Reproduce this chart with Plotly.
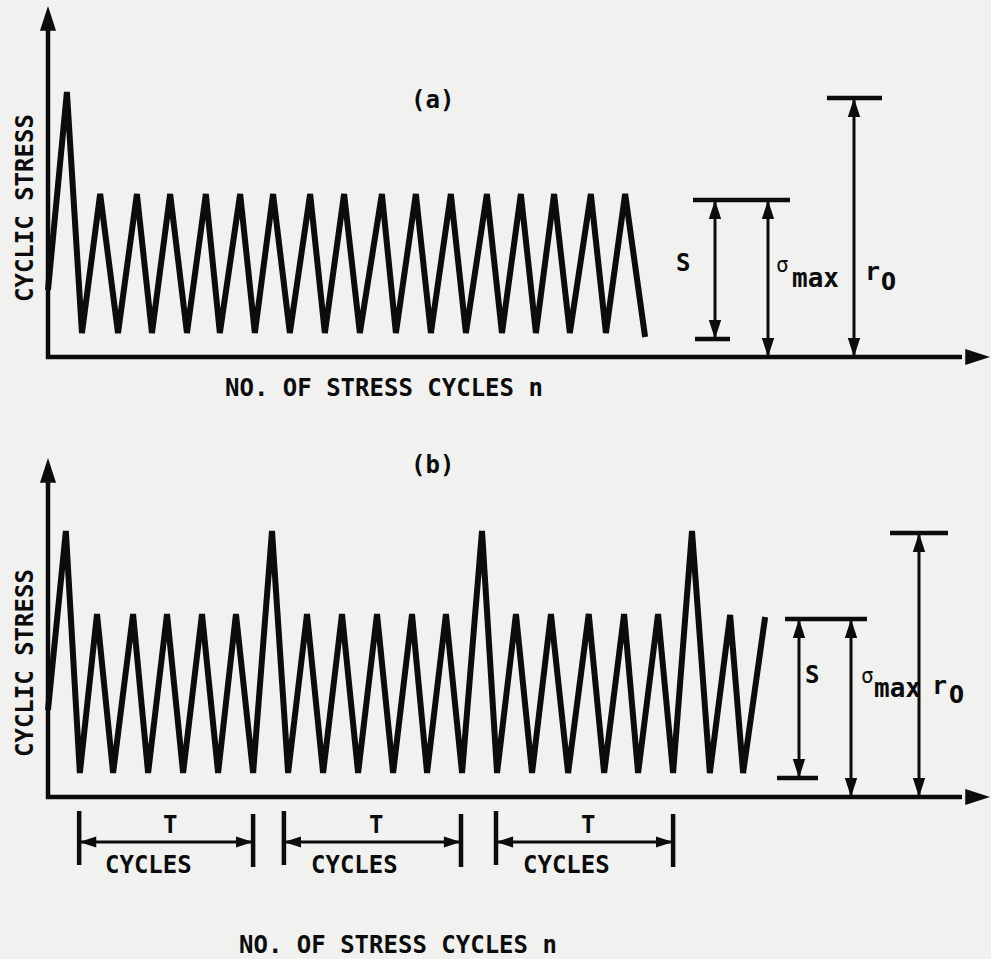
import plotly.graph_objects as go

# ---------------- data ----------------
# Panel (a): constant-amplitude loading after one overload (x in cycles, y in stress units)
cycles_a = [0.00, 0.54, 0.97, 1.49, 2.00, 2.54, 2.97, 3.49, 3.97, 4.51, 4.91, 5.49, 5.91,
            6.43, 6.91, 7.49, 7.91, 8.46, 8.91, 9.54, 9.94, 10.51, 10.94, 11.51, 11.94,
            12.54, 12.97, 13.51, 13.94, 14.46, 14.91, 15.51, 15.94, 16.49, 17.06]
stress_a = [67, 265, 24, 163, 24, 163, 24, 163, 24, 163, 24, 163, 24,
            163, 24, 163, 24, 163, 24, 163, 24, 163, 24, 163, 24,
            163, 24, 163, 24, 163, 24, 163, 24, 163, 20]

# Panel (b): periodic overloads every T cycles
cycles_b = [0.00, 0.51, 0.91, 1.40, 1.86, 2.43, 2.86, 3.40, 3.86, 4.40, 4.86, 5.37, 5.86,
            6.40, 6.86, 7.40, 7.86, 8.40, 8.86, 9.40, 9.86, 10.40, 10.83, 11.37, 11.83,
            12.40, 12.83, 13.37, 13.83, 14.37, 14.86, 15.45, 15.89, 16.46, 16.86, 17.43,
            17.86, 18.40, 18.91, 19.49, 19.86, 20.49]
stress_b = [87, 266, 24, 183, 24, 183, 24, 183, 24, 183, 24, 183, 24,
            266, 24, 183, 24, 183, 24, 183, 24, 183, 24, 183, 24,
            266, 24, 183, 24, 183, 24, 183, 24, 183, 24, 183,
            24, 266, 24, 182, 24, 180]

# Dimension values (stress units)
s_min_a, s_max_a, r0_a = 18, 157, 259
s_min_b, s_max_b, r0_b = 19, 178, 264

# T-cycle block boundaries in panel (b) (cycles)
t_start = [0.89, 6.74, 12.80]
t_end = [5.86, 11.80, 17.86]

y_title = "CYCLIC STRESS"
x_title = "NO. OF STRESS CYCLES n"

# ---------------- styling / layout ----------------
W, H = 991, 959
INK = "#0c0c0c"
BG = "#f1f1ef"
FONT = "DejaVu Sans Mono"
PX = 35.0                      # pixels per cycle
X0 = 48.0                      # pixel of the stress axis
xrange = [-X0 / PX, (W - X0) / PX]
split = 420                    # pixel row separating the panels
axis_a, axis_b = 357, 797      # pixel rows of the two n-axes

fig = go.Figure()


def line(x, y, ax, w):
    xa, ya = ax
    fig.add_trace(go.Scatter(x=x, y=y, mode="lines", xaxis=xa, yaxis=ya,
                             line=dict(color=INK, width=w), hoverinfo="skip",
                             showlegend=False))


def heads(x, y, ang, ax, size):
    xa, ya = ax
    fig.add_trace(go.Scatter(x=x, y=y, mode="markers", xaxis=xa, yaxis=ya,
                             marker=dict(symbol="arrow", angle=ang, size=size, color=INK,
                                         line=dict(width=0)),
                             hoverinfo="skip", showlegend=False))


def text(s, x, y, ax, size=24, angle=0, weight="bold", family=FONT):
    xa, ya = ax
    fig.add_annotation(text=s, x=x, y=y, xref=xa, yref=ya, showarrow=False,
                       textangle=angle,
                       font=dict(family=family, size=size, color=INK, weight=weight))


A = ("x", "y")
B = ("x2", "y2")
xend = (W - 1 - X0) / PX

# ----- Panel (a) -----
top_a = axis_a - 6
line([0, 0, xend - 0.8], [top_a - 20, 0, 0], A, 4.5)
heads([0, xend], [top_a, 0], [0, 90], A, 26)
line(cycles_a, stress_a, A, 6)

# S, sigma_max, r0 dimension lines
xs, xsm, xr = (715 - X0) / PX, (768 - X0) / PX, (854 - X0) / PX
line([(693 - X0) / PX, (790 - X0) / PX], [s_max_a, s_max_a], A, 4.5)
line([(695 - X0) / PX, (730 - X0) / PX], [s_min_a, s_min_a], A, 4.5)
line([(827 - X0) / PX, (882 - X0) / PX], [r0_a, r0_a], A, 4.5)
line([xs, xs], [s_min_a, s_max_a], A, 3)
line([xsm, xsm], [0, s_max_a], A, 3)
line([xr, xr], [0, r0_a], A, 3)
heads([xs, xs, xsm, xsm, xr, xr], [s_max_a, s_min_a, s_max_a, 0, r0_a, 0],
      [0, 180, 0, 180, 0, 180], A, 20)

text("S", (683 - X0) / PX, 94, A)
text("σ", (782 - X0) / PX, 92, A, size=21, weight="normal")
text("max", (815 - X0) / PX, 79, A, size=26)
text("r", (872 - X0) / PX, 86, A, size=25)
text("0", (888 - X0) / PX, 75, A, size=24, family="DejaVu Sans Condensed")
text(y_title, (25 - X0) / PX, axis_a - 208, A, angle=-90)
text(x_title, (384 - X0) / PX, axis_a - 388, A)
text("(a)", (432 - X0) / PX, axis_a - 100, A, size=24)

# ----- Panel (b) -----
top_b = axis_b - 458
line([0, 0, xend - 0.8], [top_b - 20, 0, 0], B, 4.5)
heads([0, xend], [top_b, 0], [0, 90], B, 26)
line(cycles_b, stress_b, B, 6)

xs, xsm, xr = (799 - X0) / PX, (851 - X0) / PX, (919 - X0) / PX
line([(785 - X0) / PX, (867 - X0) / PX], [s_max_b, s_max_b], B, 4.5)
line([(777 - X0) / PX, (818 - X0) / PX], [s_min_b, s_min_b], B, 4.5)
line([(890 - X0) / PX, (948 - X0) / PX], [r0_b, r0_b], B, 4.5)
line([xs, xs], [s_min_b, s_max_b], B, 3)
line([xsm, xsm], [0, s_max_b], B, 3)
line([xr, xr], [0, r0_b], B, 3)
heads([xs, xs, xsm, xsm, xr, xr], [s_max_b, s_min_b, s_max_b, 0, r0_b, 0],
      [0, 180, 0, 180, 0, 180], B, 20)

text("S", (812 - X0) / PX, 122, B)
text("σ", (867 - X0) / PX, 121, B, size=21, weight="normal")
text("max", (897 - X0) / PX, 109, B, size=26)
text("r", (939 - X0) / PX, 112, B, size=25)
text("0", (956 - X0) / PX, 102, B, size=24, family="DejaVu Sans Condensed")
text(y_title, (25 - X0) / PX, axis_b - 663, B, angle=-90)
text(x_title, (398 - X0) / PX, axis_b - 945, B)
text("(b)", (432 - X0) / PX, axis_b - 465, B, size=24)

# T-cycle brackets below the axis
for a, b in zip(t_start, t_end):
    line([a, a], [-14, -68], B, 4.5)
    line([b, b], [-17, -70], B, 4.5)
    line([a, b], [-45, -45], B, 3)
    heads([a, b], [-45, -45], [270, 90], B, 18)
    text("T", a + 0.52 * (b - a), -28, B, size=24)
    text("CYCLES", a + 0.40 * (b - a), -68, B, size=24)

dom_split = 1 - split / H
fig.update_layout(
    width=W, height=H,
    margin=dict(l=0, r=0, t=0, b=0),
    paper_bgcolor=BG, plot_bgcolor="rgba(0,0,0,0)",
    showlegend=False,
    xaxis=dict(domain=[0, 1], range=xrange, visible=False, fixedrange=True),
    yaxis=dict(domain=[dom_split, 1], range=[axis_a - split, axis_a], visible=False,
               fixedrange=True),
    xaxis2=dict(domain=[0, 1], range=xrange, visible=False, fixedrange=True),
    yaxis2=dict(domain=[0, dom_split], range=[axis_b - H, axis_b - split], visible=False,
                fixedrange=True),
)

fig.write_html(
    "out.html",
    config={"displayModeBar": False, "staticPlot": True},
    post_script="document.body.style.margin='0';document.body.style.overflow='hidden';"
                "document.body.style.background='" + BG + "';",
)
